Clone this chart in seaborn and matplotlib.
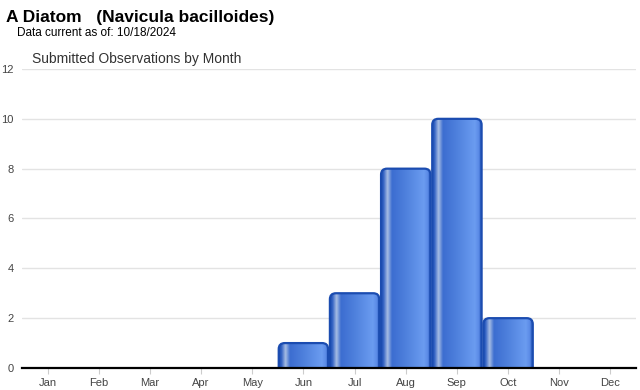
import numpy as np
import pandas as pd
import matplotlib
matplotlib.use("Agg")
import matplotlib.pyplot as plt
import seaborn as sns
from matplotlib.patches import FancyBboxPatch
from matplotlib.transforms import IdentityTransform
from matplotlib.colors import LinearSegmentedColormap

months = ["Jan", "Feb", "Mar", "Apr", "May", "Jun", "Jul", "Aug", "Sep", "Oct", "Nov", "Dec"]
counts = [0, 0, 0, 0, 0, 1, 3, 8, 10, 2, 0, 0]
yticks = [0, 2, 4, 6, 8, 10, 12]

title = "A Diatom   (Navicula bacilloides)"
subtitle = "Data current as of: 10/18/2024"
chart_title = "Submitted Observations by Month"

sns.set_theme(style="white")
plt.rcParams["font.family"] = ["Liberation Sans", "DejaVu Sans"]

W, H = 640, 390
fig = plt.figure(figsize=(W / 100, H / 100), dpi=100)
ax = fig.add_axes([22 / W, 22 / H, 614 / W, 299 / H])

df = pd.DataFrame({"month": months, "count": counts})
sns.barplot(data=df, x="month", y="count", ax=ax, width=0.965,
            color="#4a7bd8", saturation=1, order=months)

ax.set_xlim(-0.5, len(months) - 0.5)
ax.set_ylim(0, 12)
ax.set_yticks(yticks)
ax.set_xlabel("")
ax.set_ylabel("")
ax.grid(axis="y", color="#e3e3e3", linewidth=1)
ax.set_axisbelow(True)
for s in ["left", "right", "top"]:
    ax.spines[s].set_visible(False)
ax.spines["bottom"].set_color("black")
ax.spines["bottom"].set_linewidth(1.6)
ax.spines["bottom"].set_zorder(6)
ax.tick_params(axis="y", length=0, pad=6, labelsize=8, labelcolor="#444444")
ax.tick_params(axis="x", length=4, width=0.8, color="#cccccc", pad=3,
               labelsize=8, labelcolor="#444444", direction="out", bottom=True)

fig.canvas.draw()

stops = [
    (0.00, "#1c4db0"),
    (0.05, "#3463c4"),
    (0.13, "#a7bde4"),
    (0.22, "#3c6dd0"),
    (0.50, "#4f81dd"),
    (0.86, "#6b9cf0"),
    (0.94, "#5a8ae6"),
    (1.00, "#1c4db0"),
]
cmap = LinearSegmentedColormap.from_list("cyl", stops)
grad = np.linspace(0, 1, 256)[None, :]

for p in list(ax.patches):
    h = p.get_height()
    p.set_visible(False)
    if h <= 0:
        continue
    x0, w = p.get_x(), p.get_width()
    dx0, dy0 = ax.transData.transform((x0, 0))
    dx1, dy1 = ax.transData.transform((x0 + w, h))
    box = FancyBboxPatch((dx0, dy0 - 12), dx1 - dx0, dy1 - dy0 + 12,
                         boxstyle="round,pad=0,rounding_size=6",
                         transform=IdentityTransform(),
                         facecolor="none", edgecolor="#1b4cb0",
                         linewidth=1.6, zorder=4)
    ax.add_patch(box)
    im = ax.imshow(grad, cmap=cmap, extent=(x0, x0 + w, 0, h),
                   aspect="auto", zorder=3, interpolation="bilinear")
    im.set_clip_path(box)

ax.set_xlim(-0.5, len(months) - 0.5)
ax.set_ylim(0, 12)

fig.text(6 / W, 1 - 22 / H, title, fontsize=12.5, fontweight="bold",
         color="black", ha="left", va="baseline")
fig.text(17 / W, 1 - 36 / H, subtitle, fontsize=8.5,
         color="black", ha="left", va="baseline")
fig.text(32 / W, 1 - 63 / H, chart_title, fontsize=10,
         color="#333333", ha="left", va="baseline")

fig.savefig("out.png", dpi=100)
